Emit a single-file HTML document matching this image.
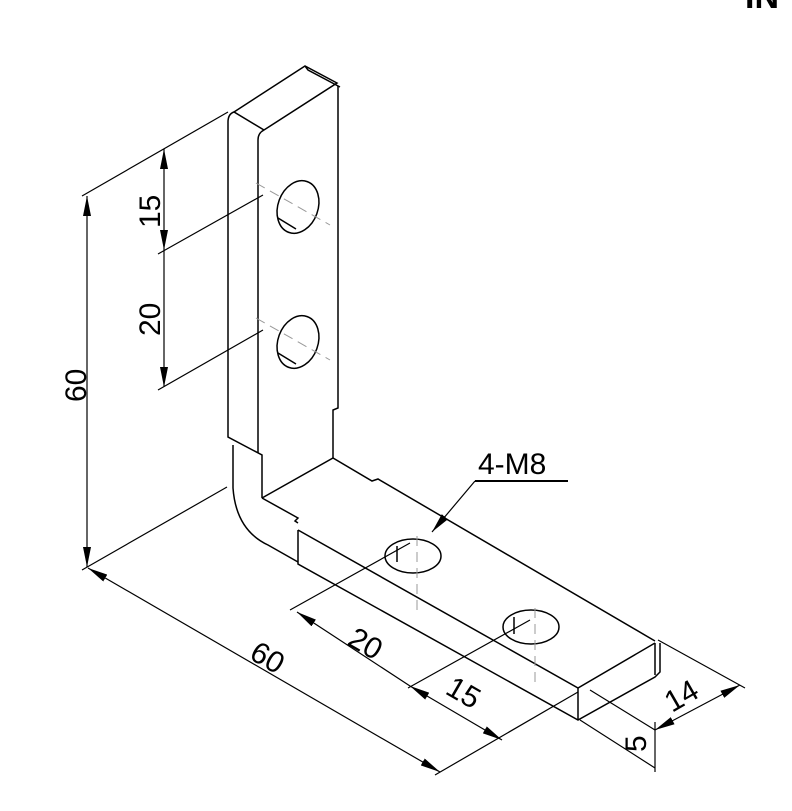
<!DOCTYPE html>
<html><head><meta charset="utf-8"><style>
html,body{margin:0;padding:0;background:#fff;}
svg{display:block;}
text{font-family:"Liberation Sans",sans-serif;fill:#000;}
</style></head><body>
<svg width="792" height="811" viewBox="0 0 792 811" xmlns="http://www.w3.org/2000/svg">
<defs>
<marker id="a" viewBox="0 0 20 8" refX="20" refY="4" markerWidth="20" markerHeight="8" orient="auto-start-reverse" markerUnits="userSpaceOnUse">
<path d="M0,0 L20,4 L0,8 Z" fill="#000"/></marker>
</defs>
<text x="745" y="8" font-size="34" font-weight="bold">IN</text>
<g fill="none" stroke="#000" stroke-width="1.5">
<path d="M234,112 L305,66 L337,83 L264,130 Q258,133 258,140 L258,453"/>
<path d="M305,66 L308,70 L340,87"/>
<path d="M228,122 Q228,114 234,112 L264,130"/>
<path d="M228,122 L228,437 L262,455 L262,498"/>
<path d="M338,86 L338,408 L333,410 L333,458"/>
<path d="M233,445 L233,488 Q236,530 268,545 L298,562"/>
<path d="M262,498 L333,458 L372,481 L378,479 L655,641"/>
<path d="M262,498 L298,518 L295,521 L298,523"/>
<path d="M298,530 L578,688 L655,643"/>
<path d="M298,530 L298,564 L578,720 L655,677 L660,672 L660,643"/>
<path d="M578,688 L578,720"/>
<path d="M655,643 L655,675"/>
<ellipse cx="298" cy="207" rx="20" ry="27" transform="rotate(20 298 207)"/>
<ellipse cx="298" cy="342" rx="20" ry="27" transform="rotate(20 298 342)"/>
<path d="M278,218 L296,229 M278,353 L296,364"/>
<ellipse cx="413" cy="556" rx="28" ry="17"/>
<ellipse cx="531" cy="627" rx="28" ry="17"/>
<path d="M397,546 L397,562 M514,617 L514,634"/>
</g>
<g fill="none" stroke="#999" stroke-width="1" stroke-dasharray="10,6">
<path d="M256,183 L330,225 M256,318 L330,360"/>
<path d="M417,536 L417,610 M535,608 L535,685"/>
</g>
<g fill="none" stroke="#000" stroke-width="1.2">
<path d="M82,196 L228,112"/>
<path d="M82,570 L227,487"/>
<path d="M158,254 L263,195 M158,390 L263,330"/>
<path d="M87,196 L87,567" marker-start="url(#a)" marker-end="url(#a)"/>
<path d="M164,149 L164,250" marker-start="url(#a)" marker-end="url(#a)"/>
<path d="M164,250 L164,387" marker-end="url(#a)"/>
<path d="M88,568 L440,772" marker-start="url(#a)" marker-end="url(#a)"/>
<path d="M435,775 L578,692"/>
<path d="M297,612 L410,686" marker-start="url(#a)"/>
<path d="M410,686 L502,740" marker-start="url(#a)" marker-end="url(#a)"/>
<path d="M290,610 L410,543 M408,688 L530,620"/>
<path d="M590,690 L655,730 M658,640 L745,688"/>
<path d="M655,730 L740,685" marker-start="url(#a)" marker-end="url(#a)"/>
<path d="M655,722 L655,772 M580,720 L655,768"/>
<path d="M475,481 L432,532" marker-end="url(#a)"/>
<path d="M475,481 L568,481" stroke-width="2"/>
</g>
<text font-size="30" transform="translate(160,228) rotate(-90)">15</text>
<text font-size="30" transform="translate(160,336) rotate(-90)">20</text>
<text font-size="30" transform="translate(86,402) rotate(-90)">60</text>
<text font-size="30" transform="translate(248,658) rotate(30)">60</text>
<text font-size="30" transform="translate(346,644) rotate(30)">20</text>
<text font-size="30" transform="translate(444,693) rotate(30)">15</text>
<text font-size="30" transform="translate(672,713) rotate(-30)">14</text>
<text font-size="30" transform="translate(646,752) rotate(-90)">5</text>
<text x="478" y="474" font-size="30">4-M8</text>
</svg>
</body></html>
